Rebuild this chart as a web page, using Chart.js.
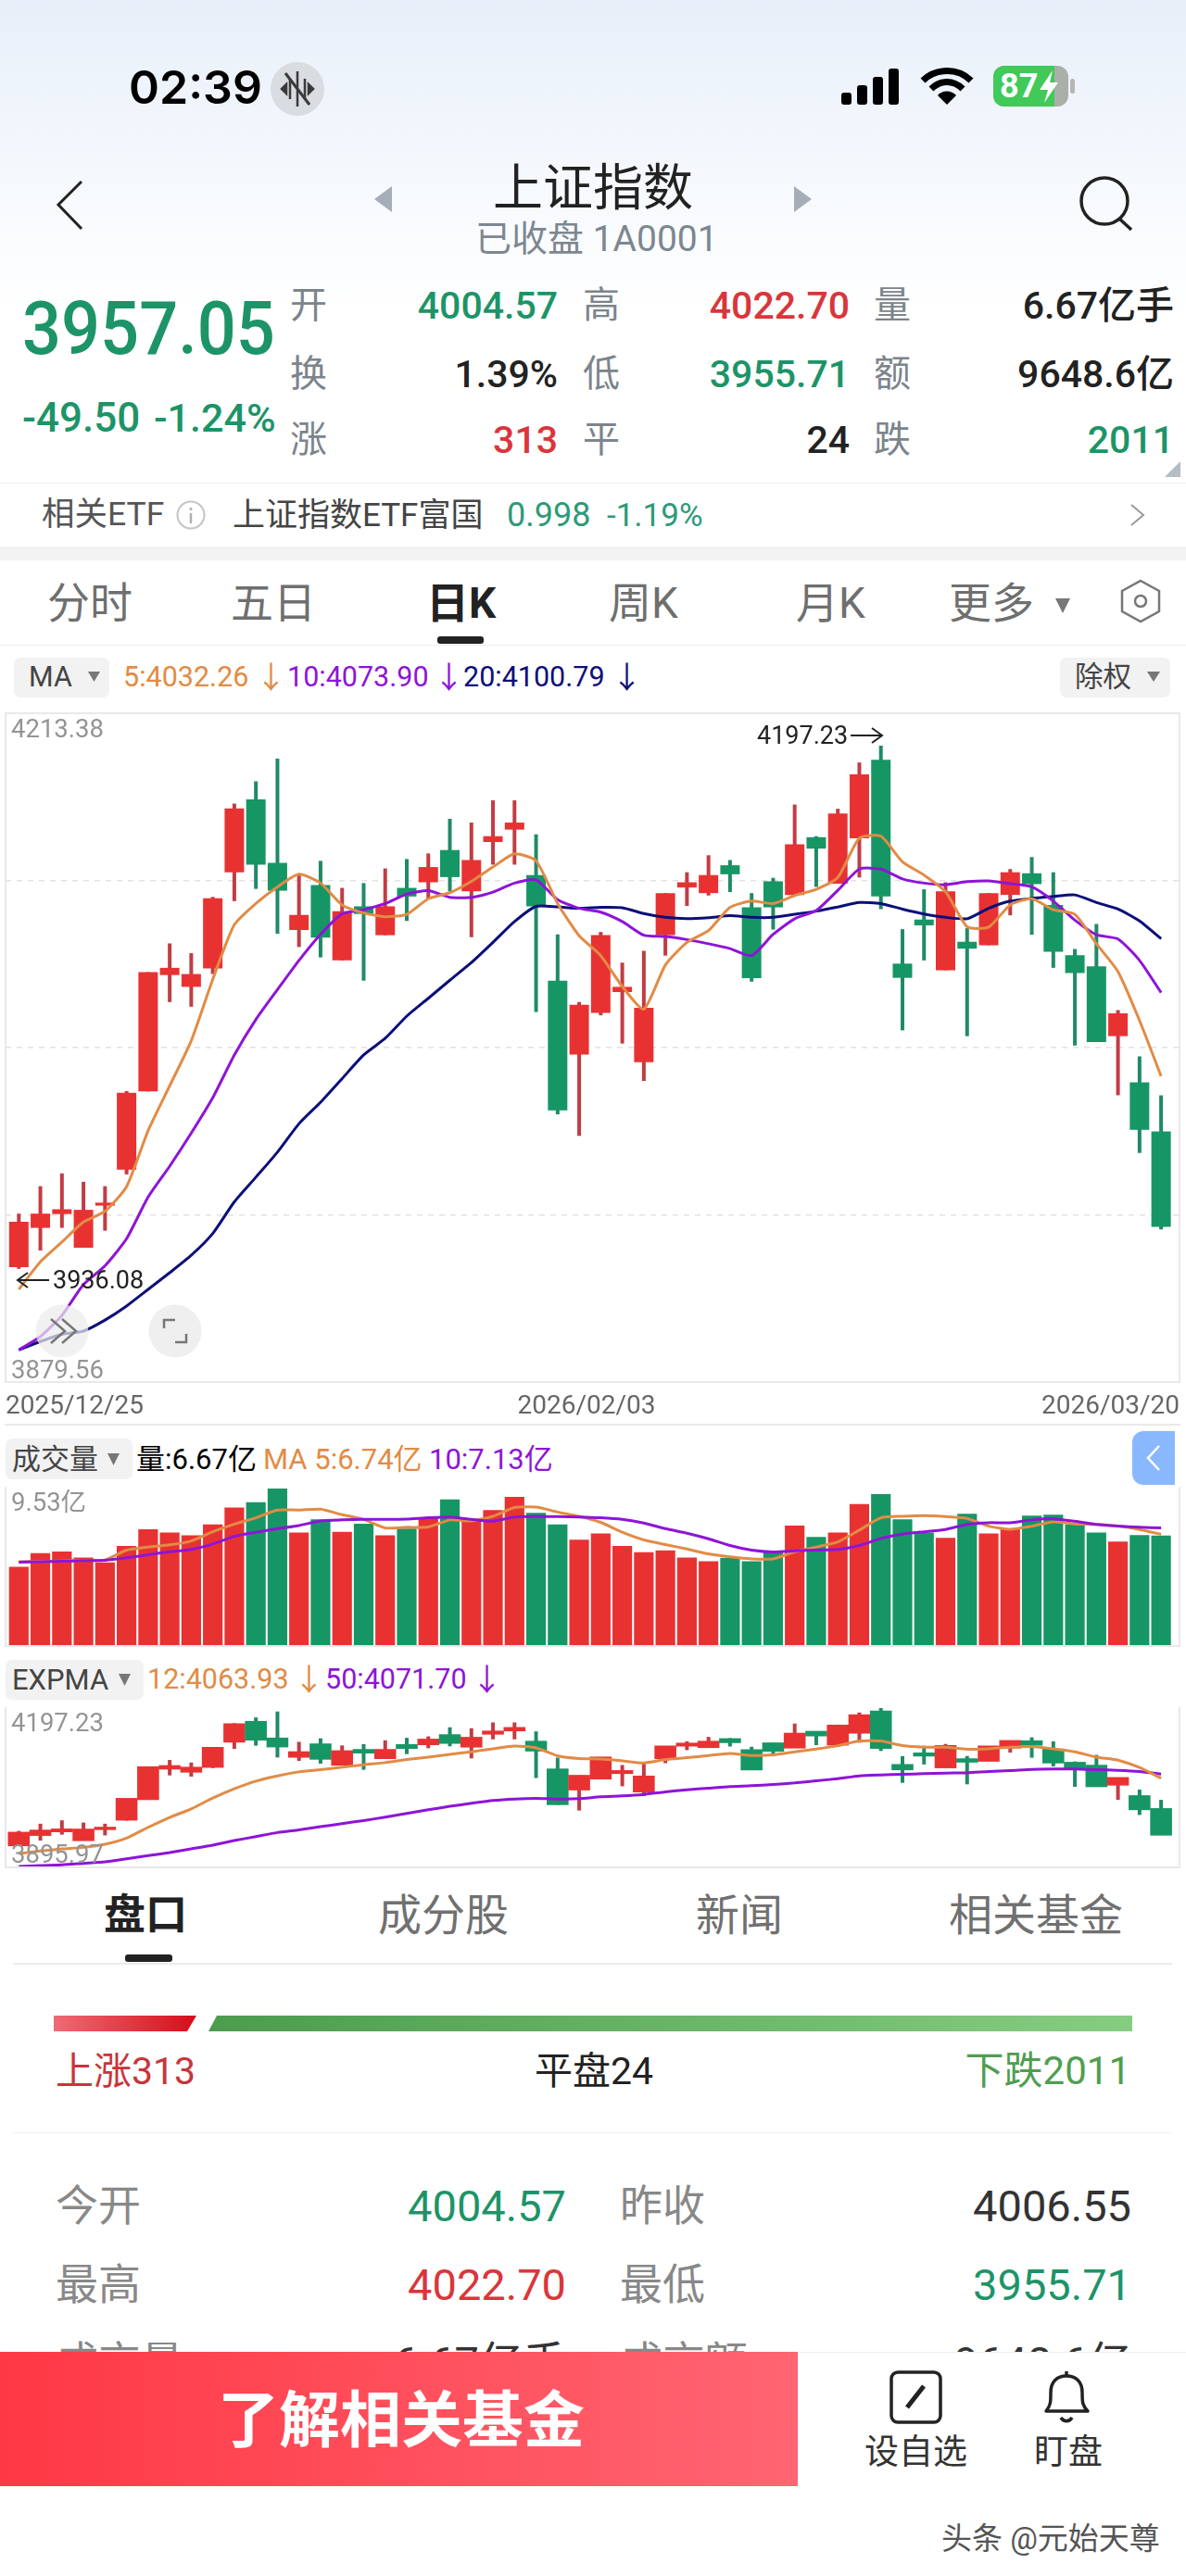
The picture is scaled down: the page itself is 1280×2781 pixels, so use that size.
<!DOCTYPE html>
<html lang="zh">
<head>
<meta charset="utf-8">
<title>上证指数</title>
<script src="https://cdn.jsdelivr.net/npm/chart.js@4"></script>
<style>
html, body { margin: 0; padding: 0; background: #fff; }
#page { position: relative; width: 1280px; height: 2781px; overflow: hidden; font-family: Roboto, "Noto Sans CJK SC", sans-serif; color: #222;
    background: linear-gradient(#e8effa 0, #f4f8fd 170px, #fff 340px); }
.t { position: absolute; white-space: nowrap; line-height: 1; transform: translateY(-50%); }
.box { position: absolute; box-sizing: border-box; }
canvas { position: absolute; }
svg { position: absolute; overflow: visible; }
.lab { font-size: 40px; color: #7c848c; }
.val { font-size: 41px; font-weight: 500; }
.tab { font-size: 46px; color: #6f6f6f; }
.tab2 { font-size: 47px; color: #707070; }
.row { font-size: 46px; color: #888; }
.num { font-size: 47px; }
.head { font-size: 30.5px; }
.red { color: #d9363b; } .green { color: #1d9468; } .black { color: #222; }
.org { color: #e28b45; } .pur { color: #8e14d8; } .navy { color: #0c0f78; }
.chip { background: #f2f2f2; border-radius: 7px; }
.frame { border: 2px solid #e9e9e9; }
</style>
</head>
<body>
<div id="page">

<!-- status bar -->
<div class="t" style="left:139px;top:94px;font:600 50px Inter;color:#000">02:39</div>
<svg style="left:292px;top:67px" width="58" height="58">
    <circle cx="29" cy="29" r="29" fill="#d9dce1"/>
    <path d="M29 10V48M21 18V40M37 18V40M12 29l5-5v10zM46 29l-5-5v10z" stroke="#3a3a3a" stroke-width="2.5" fill="#3a3a3a"/>
    <path d="M16 12L42 46" stroke="#3a3a3a" stroke-width="3"/>
</svg>
<svg style="left:908px;top:74px" width="64" height="40">
    <rect x="0" y="26" width="11" height="13" rx="3" fill="#000"/>
    <rect x="17" y="18" width="11" height="21" rx="3" fill="#000"/>
    <rect x="34" y="9" width="11" height="30" rx="3" fill="#000"/>
    <rect x="51" y="0" width="11" height="39" rx="3" fill="#000"/>
</svg>
<svg style="left:994px;top:74px" width="56" height="40">
    <path d="M2 13C16 -1 40 -1 54 13M11 22C21 12 35 12 45 22" fill="none" stroke="#000" stroke-width="7"/>
    <path d="M28 39L18 29C23 23 33 23 38 29Z" fill="#000"/>
</svg>
<svg style="left:1072px;top:71px" width="90" height="44">
    <rect x="0" y="0" width="81" height="44" rx="12" fill="#a9afa9"/>
    <path d="M12 0H66V44H12A12 12 0 0 1 0 32V12A12 12 0 0 1 12 0Z" fill="#3fca5a"/>
    <rect x="83" y="14" width="5" height="16" rx="2.5" fill="#b5b5b5"/>
    <path d="M64 5L50 26H59L55 40L70 18H61Z" fill="#fff"/>
</svg>
<div class="t" style="left:1079px;top:93px;font:700 36px Roboto;color:#fff">87</div>

<!-- title row -->
<svg style="left:60px;top:195px" width="30" height="54"><path d="M28 1L3 26L28 52" fill="none" stroke="#222" stroke-width="3"/></svg>
<svg style="left:404px;top:201px" width="20" height="30"><path d="M19 0V28L0 14Z" fill="#a5aeb8"/></svg>
<svg style="left:857px;top:201px" width="20" height="30"><path d="M0 0V28L19 14Z" fill="#a5aeb8"/></svg>
<div class="t" style="left:532px;top:204px;font-size:54px;color:#222">上证指数</div>
<div class="t" style="left:513px;top:258px;font-size:39px;color:#7d8790">已收盘 1A0001</div>
<svg style="left:1162px;top:190px" width="64" height="60">
    <circle cx="30" cy="27" r="25" fill="none" stroke="#222" stroke-width="3.5"/>
    <path d="M46 46L59 58" stroke="#222" stroke-width="3.5"/>
</svg>

<!-- quote block -->
<div class="t green" style="left:24px;top:355px;font-size:74px;font-weight:500;transform:translateY(-50%) scaleY(1.08)">3957.05</div>
<div class="t green" style="left:24px;top:451px;font-size:44px;font-weight:500">-49.50</div>
<div class="t green" style="left:166px;top:451px;font-size:43px;font-weight:500">-1.24%</div>

<div class="t lab" style="left:313px;top:330px">开</div>
<div class="t lab" style="left:313px;top:404px">换</div>
<div class="t lab" style="left:313px;top:475px">涨</div>
<div class="t val green" style="right:678px;top:330px">4004.57</div>
<div class="t val black" style="right:678px;top:404px">1.39%</div>
<div class="t val red" style="right:678px;top:475px">313</div>
<div class="t lab" style="left:629px;top:330px">高</div>
<div class="t lab" style="left:629px;top:404px">低</div>
<div class="t lab" style="left:629px;top:475px">平</div>
<div class="t val red" style="right:363px;top:330px">4022.70</div>
<div class="t val green" style="right:363px;top:404px">3955.71</div>
<div class="t val black" style="right:363px;top:475px">24</div>
<div class="t lab" style="left:943px;top:330px">量</div>
<div class="t lab" style="left:943px;top:404px">额</div>
<div class="t lab" style="left:943px;top:475px">跌</div>
<div class="t val black" style="right:13px;top:330px">6.67亿手</div>
<div class="t val black" style="right:13px;top:404px">9648.6亿</div>
<div class="t val green" style="right:13px;top:475px">2011</div>
<svg style="left:1257px;top:498px" width="17" height="18"><path d="M17 0V17H0Z" fill="#b4bcc4"/></svg>

<!-- etf row -->
<div class="box" style="left:0;top:521px;width:1280px;height:1px;background:#f0f0f0"></div>
<div class="t" style="left:45px;top:556px;font-size:35.5px;color:#555">相关ETF</div>
<svg style="left:190px;top:540px" width="32" height="32">
    <circle cx="16" cy="16" r="14.5" fill="none" stroke="#c4c4c4" stroke-width="2"/>
    <path d="M16 14V25M16 8V11" stroke="#b0b0b0" stroke-width="2.5"/>
</svg>
<div class="t" style="left:251px;top:556px;font-size:35px;color:#444">上证指数ETF富国</div>
<div class="t" style="left:547px;top:556px;font-size:36px;color:#2d9a78">0.998</div>
<div class="t" style="left:655px;top:556px;font-size:35px;color:#2d9a78">-1.19%</div>
<svg style="left:1220px;top:544px" width="16" height="24"><path d="M1 1L14 12L1 23" fill="none" stroke="#999" stroke-width="2"/></svg>
<div class="box" style="left:0;top:590px;width:1280px;height:15px;background:#f3f3f3"></div>

<!-- period tabs -->
<div class="t tab" style="left:51px;top:651px">分时</div>
<div class="t tab" style="left:249px;top:651px">五日</div>
<div class="t tab" style="left:460px;top:651px;font-weight:700;color:#222">日K</div>
<div class="t tab" style="left:657px;top:651px">周K</div>
<div class="t tab" style="left:859px;top:651px">月K</div>
<div class="t tab" style="left:1024px;top:651px">更多</div>
<svg style="left:1139px;top:646px" width="17" height="17"><path d="M0 0H16L8 16Z" fill="#777"/></svg>
<svg style="left:1208px;top:626px" width="46" height="46">
    <path d="M23 1L43 12V34L23 45L3 34V12Z" fill="none" stroke="#777" stroke-width="2.5"/>
    <circle cx="23" cy="23" r="6" fill="none" stroke="#777" stroke-width="2.5"/>
</svg>
<div class="box" style="left:472px;top:687px;width:50px;height:8px;background:#222;border-radius:3px"></div>
<div class="box" style="left:0;top:696px;width:1280px;height:1px;background:#eee"></div>

<!-- main chart header -->
<div class="box chip" style="left:15px;top:710px;width:103px;height:43px"></div>
<div class="t head" style="left:31px;top:731px;color:#444">MA</div>
<svg style="left:95px;top:725px" width="13" height="13"><path d="M0 0H13L6.5 11Z" fill="#777"/></svg>
<div class="t head org" style="left:133px;top:731px">5:4032.26</div>
<div class="t head org" style="left:276px;top:731px;font-size:33px">↓</div>
<div class="t head pur" style="left:310px;top:731px">10:4073.90</div>
<div class="t head pur" style="left:468px;top:731px;font-size:33px">↓</div>
<div class="t head navy" style="left:500px;top:731px">20:4100.79</div>
<div class="t head navy" style="left:660px;top:731px;font-size:33px">↓</div>
<div class="box chip" style="left:1144px;top:710px;width:119px;height:43px"></div>
<div class="t head" style="left:1160px;top:731px;color:#444">除权</div>
<svg style="left:1238px;top:725px" width="14" height="13"><path d="M0 0H14L7 11Z" fill="#777"/></svg>

<!-- main chart -->
<div class="box frame" style="left:5px;top:769px;width:1269px;height:724px"></div>
<div class="box" style="left:5px;top:1537px;width:1269px;height:2px;background:#e9e9e9"></div>
<canvas id="priceChart" width="1267" height="768" style="left:6px;top:770px"></canvas>
<div class="t" style="left:817px;top:794px;font-size:27px;color:#222">4197.23</div>
<svg style="left:918px;top:784px" width="36" height="20"><path d="M0 10H33M23 2L34 10L23 18" fill="none" stroke="#222" stroke-width="2"/></svg>
<svg style="left:18px;top:1372px" width="36" height="20"><path d="M35 10H2M12 2L1 10L12 18" fill="none" stroke="#222" stroke-width="2"/></svg>
<div class="t" style="left:57px;top:1382px;font-size:27px;color:#222">3936.08</div>
<svg style="left:38px;top:1408px" width="58" height="58">
    <circle cx="29" cy="29" r="28.5" fill="#ececec" fill-opacity=".72"/>
    <path d="M17 16L32 29L17 42M29 16L44 29L29 42" fill="none" stroke="#777" stroke-width="2.5"/>
</svg>
<svg style="left:160px;top:1408px" width="58" height="58">
    <circle cx="29" cy="29" r="28.5" fill="#efefef"/>
    <path d="M17 26V17H29M41 32V41H29" fill="none" stroke="#777" stroke-width="2.5"/>
</svg>

<!-- volume chart -->
<div class="box chip" style="left:6px;top:1553px;width:137px;height:44px"></div>
<div class="t" style="left:13px;top:1575px;font-size:31px;color:#444">成交量</div>
<svg style="left:116px;top:1569px" width="14" height="14"><path d="M0 0H13L6.5 13Z" fill="#777"/></svg>
<div class="t" style="left:147px;top:1575px;font-size:31px;color:#000">量:6.67亿</div>
<div class="t org" style="left:284px;top:1575px;font-size:31px">MA 5:6.74亿</div>
<div class="t pur" style="left:463px;top:1575px;font-size:31px">10:7.13亿</div>
<div class="box" style="left:1222px;top:1545px;width:46px;height:58px;background:#8ab8ff;border-radius:12px 0 0 12px"></div>
<svg style="left:1237px;top:1559px" width="16" height="30"><path d="M14 2L2 15L14 28" fill="none" stroke="#fff" stroke-width="2.5"/></svg>
<div class="box frame" style="left:5px;top:1605px;width:1269px;height:173px;border-top:0"></div>
<canvas id="volumeChart" width="1267" height="169" style="left:6px;top:1607px"></canvas>

<!-- expma chart -->
<div class="box chip" style="left:6px;top:1792px;width:149px;height:43px"></div>
<div class="t" style="left:13px;top:1813px;font-size:31px;color:#444">EXPMA</div>
<svg style="left:128px;top:1807px" width="14" height="14"><path d="M0 0H13L6.5 13Z" fill="#777"/></svg>
<div class="t org" style="left:159px;top:1813px;font-size:30.5px">12:4063.93</div>
<div class="t org" style="left:317px;top:1813px;font-size:33px">↓</div>
<div class="t pur" style="left:351px;top:1813px;font-size:30.5px">50:4071.70</div>
<div class="t pur" style="left:509px;top:1813px;font-size:33px">↓</div>
<div class="box frame" style="left:5px;top:1843px;width:1269px;height:174px;border-top:0"></div>
<canvas id="expmaChart" width="1267" height="171" style="left:6px;top:1844px"></canvas>

<!-- lower tabs -->
<div class="t" style="left:112px;top:2067px;font-size:45px;font-weight:700;color:#222">盘口</div>
<div class="t tab2" style="left:408px;top:2067px">成分股</div>
<div class="t tab2" style="left:751px;top:2067px">新闻</div>
<div class="t tab2" style="left:1024px;top:2067px">相关基金</div>
<div class="box" style="left:135px;top:2110px;width:51px;height:8px;background:#222;border-radius:3px"></div>
<div class="box" style="left:14px;top:2119px;width:1251px;height:2px;background:#ececec"></div>

<!-- breadth bar -->
<svg style="left:58px;top:2176px" width="1164" height="18">
    <defs>
        <linearGradient id="upBar"><stop offset="0" stop-color="#ef6a74"/><stop offset="1" stop-color="#d60d18"/></linearGradient>
        <linearGradient id="downBar"><stop offset="0" stop-color="#4c9c4e"/><stop offset="1" stop-color="#86cd82"/></linearGradient>
    </defs>
    <path d="M0 0H154L144 17H0Z" fill="url(#upBar)"/>
    <path d="M176 0H1164V17H167Z" fill="url(#downBar)"/>
</svg>
<div class="t" style="left:60px;top:2236px;font-size:41px;color:#c8353a">上涨313</div>
<div class="t" style="left:577px;top:2236px;font-size:41px;color:#222">平盘24</div>
<div class="t" style="right:60px;top:2236px;font-size:42px;color:#4f9e50">下跌2011</div>
<div class="box" style="left:14px;top:2302px;width:1251px;height:1px;background:#f2f2f2"></div>

<!-- quote table -->
<div class="t row" style="left:60px;top:2381px">今开</div>
<div class="t num green" style="right:669px;top:2381px">4004.57</div>
<div class="t row" style="left:669px;top:2381px">昨收</div>
<div class="t num" style="right:59px;top:2381px;color:#333">4006.55</div>
<div class="t row" style="left:60px;top:2466px">最高</div>
<div class="t num red" style="right:669px;top:2466px">4022.70</div>
<div class="t row" style="left:669px;top:2466px">最低</div>
<div class="t num green" style="right:59px;top:2466px">3955.71</div>
<div class="t row" style="left:60px;top:2550px">成交量</div>
<div class="t num" style="right:669px;top:2550px;color:#333">6.67亿手</div>
<div class="t row" style="left:669px;top:2550px">成交额</div>
<div class="t num" style="right:59px;top:2550px;color:#333">9648.6亿</div>

<!-- bottom bar -->
<div class="box" style="left:0;top:2539px;width:1280px;height:242px;background:#fff;border-top:1px solid #eee"></div>
<div class="box" style="left:0;top:2539px;width:861px;height:145px;background:linear-gradient(90deg,#ff3845,#ff6572)"></div>
<div class="t" style="left:235px;top:2614px;font-size:66px;font-weight:700;color:#fff">了解相关基金</div>
<svg style="left:960px;top:2559px" width="58" height="60">
    <rect x="2" y="2" width="53" height="54" rx="7" fill="none" stroke="#222" stroke-width="3.5"/>
    <path d="M19 40L37 17" stroke="#222" stroke-width="5"/>
</svg>
<svg style="left:1125px;top:2559px" width="54" height="60">
    <path d="M4 44C9 38 9 34 9 24C9 12 16 6 26 6C36 6 43 12 43 24C43 34 43 38 49 44Z" fill="none" stroke="#222" stroke-width="3.5" stroke-linejoin="round"/>
    <path d="M26 1V6M20 51C23 56 29 56 32 51" fill="none" stroke="#222" stroke-width="3.5"/>
</svg>
<div class="t" style="left:933px;top:2647px;font-size:37px;color:#333">设自选</div>
<div class="t" style="left:1116px;top:2647px;font-size:37px;color:#333">盯盘</div>
<div class="t" style="left:1016px;top:2740px;font-size:33px;color:#555">头条 @元始天尊</div>
</div>

<script>
// Daily candles, 2025/12/25 to 2026/03/20
const opens = [3936.9, 3956.5, 3963.4, 3946.6, 3967.6, 3985.6, 4024.6, 4082.7, 4076.8, 4086.0, 4134.0, 4170.4, 4138.7, 4105.2, 4127.6, 4090.0, 4117.0, 4102.6,
    4126.2, 4129.0, 4145.1, 4124.5, 4149.1, 4155.3, 4132.6, 4079.9, 4043.0, 4063.8, 4074.2, 4039.2, 4102.6, 4126.4, 4123.6, 4137.5, 4116.5, 4129.5,
    4122.7, 4151.5, 4128.3, 4151.0, 4190.2, 4088.4, 4110.4, 4085.1, 4099.3, 4097.6, 4122.7, 4133.5, 4117.7, 4092.6, 4087.0, 4052.2, 4029.1, 4004.57];
const closes = [3959.6, 3963.6, 3965.8, 3965.5, 3969.1, 4023.9, 4084.1, 4086.3, 4083.2, 4121.0, 4165.9, 4137.8, 4124.8, 4112.7, 4101.4, 4114.6, 4113.2, 4117.0,
    4121.9, 4136.6, 4131.6, 4140.1, 4152.0, 4158.8, 4117.0, 4015.1, 4067.8, 4102.6, 4076.8, 4066.4, 4123.6, 4129.0, 4132.6, 4133.0, 4081.1, 4116.5,
    4147.9, 4145.8, 4163.3, 4182.9, 4121.9, 4081.3, 4107.5, 4124.5, 4095.9, 4123.6, 4134.0, 4128.1, 4094.3, 4083.7, 4049.2, 4063.6, 4005.4, 3957.05];
const highs = [3963.6, 3977.3, 3983.7, 3979.5, 3977.3, 4024.8, 4084.1, 4098.5, 4093.6, 4121.7, 4168.3, 4179.4, 4190.7, 4133.0, 4139.7, 4126.2, 4128.6, 4135.9,
    4140.6, 4143.4, 4160.7, 4158.8, 4169.9, 4169.9, 4152.9, 4103.0, 4069.2, 4104.2, 4088.9, 4094.8, 4123.6, 4134.0, 4142.5, 4140.1, 4123.6, 4131.2,
    4167.8, 4152.0, 4165.7, 4188.8, 4197.23, 4105.6, 4125.5, 4129.0, 4106.1, 4123.6, 4135.6, 4141.6, 4134.0, 4095.7, 4108.2, 4065.2, 4042.1, 4022.70];
const lows = [3936.08, 3945.2, 3956.5, 3946.6, 3955.1, 3983.2, 4024.6, 4069.2, 4066.9, 4083.2, 4119.6, 4125.7, 4103.3, 4096.7, 4091.5, 4090.0, 4079.9, 4102.6,
    4109.7, 4120.8, 4124.5, 4101.6, 4137.8, 4137.8, 4064.3, 4013.2, 4002.4, 4062.6, 4048.5, 4029.8, 4092.4, 4117.2, 4122.4, 4124.1, 4079.4, 4105.4,
    4122.7, 4126.7, 4128.3, 4131.4, 4115.6, 4055.1, 4090.0, 4085.1, 4052.2, 4097.6, 4112.5, 4102.8, 4086.3, 4047.5, 4049.2, 4022.7, 3993.9, 3955.71];

const ma5 = [3925.8, 3939.5, 3949.4, 3959.4, 3964.8, 3977.1, 4005.0, 4027.4, 4049.9, 4080.6, 4107.8, 4118.4, 4126.7, 4133.0, 4128.6, 4117.7, 4113.7, 4111.8,
    4113.0, 4120.8, 4123.8, 4129.5, 4136.6, 4143.2, 4139.7, 4118.4, 4102.3, 4092.4, 4077.0, 4065.7, 4087.7, 4099.0, 4104.9, 4116.5, 4119.6, 4118.4,
    4122.4, 4125.5, 4131.4, 4151.0, 4152.0, 4139.2, 4132.6, 4124.3, 4106.8, 4106.6, 4117.7, 4120.8, 4115.3, 4113.0, 4098.3, 4084.4, 4060.0, 4032.26];
const ma10 = [3895.6, 3902.2, 3912.8, 3928.2, 3937.6, 3951.1, 3971.9, 3987.3, 4003.8, 4021.5, 4042.8, 4060.5, 4075.4, 4090.0, 4103.0, 4113.2, 4115.3, 4118.4,
    4123.1, 4124.8, 4121.5, 4121.5, 4124.1, 4128.6, 4130.2, 4120.3, 4116.0, 4114.1, 4109.4, 4102.6, 4101.9, 4100.4, 4098.3, 4095.9, 4092.4, 4103.0,
    4110.8, 4114.9, 4125.0, 4135.6, 4135.6, 4130.7, 4128.6, 4127.8, 4129.3, 4129.7, 4128.3, 4126.7, 4119.6, 4110.1, 4102.8, 4100.7, 4090.0, 4073.90];
const ma20 = [3895.6, 3899.8, 3903.4, 3905.0, 3910.5, 3917.5, 3925.8, 3934.1, 3942.8, 3953.7, 3969.5, 3981.8, 3994.3, 4008.5, 4019.2, 4031.0, 4042.8, 4051.1,
    4062.2, 4071.1, 4080.1, 4088.9, 4099.0, 4109.4, 4117.0, 4116.7, 4116.0, 4116.5, 4116.3, 4113.4, 4111.5, 4110.8, 4111.3, 4112.3, 4111.5, 4111.5,
    4113.0, 4114.6, 4116.7, 4118.9, 4118.4, 4115.6, 4113.2, 4111.5, 4110.8, 4116.0, 4119.6, 4121.0, 4121.9, 4122.7, 4118.9, 4115.6, 4109.7, 4100.79];

// Volume panel, in 亿
const volumes = [4.77, 5.59, 5.70, 5.33, 5.03, 6.04, 7.05, 6.85, 6.68, 7.34, 8.37, 8.70, 9.53, 6.85, 7.65, 6.90, 7.39, 6.68,
    7.09, 7.77, 8.87, 7.69, 8.22, 9.02, 8.05, 7.34, 6.42, 6.79, 6.04, 5.65, 5.76, 5.33, 5.10, 5.31, 5.10, 5.68,
    7.28, 6.58, 6.85, 8.59, 9.19, 7.65, 6.85, 6.53, 7.99, 6.79, 7.09, 7.88, 7.94, 7.34, 6.85, 6.30, 6.70, 6.67];
const volMa5 = [5.08, 5.10, 5.12, 5.16, 5.18, 5.78, 5.97, 6.10, 6.34, 6.90, 7.37, 7.75, 8.22, 8.22, 8.27, 7.94, 7.65, 7.13,
    7.17, 7.19, 7.62, 7.56, 7.84, 8.37, 8.40, 8.10, 7.84, 7.47, 6.87, 6.40, 6.12, 5.85, 5.55, 5.37, 5.25, 5.25,
    5.68, 5.97, 6.28, 7.00, 7.75, 7.84, 7.88, 7.82, 7.71, 7.24, 7.05, 7.24, 7.50, 7.37, 7.34, 7.24, 7.04, 6.74];
const volMa10 = [5.05, 5.07, 5.10, 5.14, 5.16, 5.31, 5.50, 5.68, 5.82, 6.15, 6.62, 6.87, 7.09, 7.28, 7.56, 7.62, 7.65, 7.65,
    7.67, 7.75, 7.79, 7.65, 7.54, 7.79, 7.84, 7.82, 7.80, 7.75, 7.65, 7.43, 7.09, 6.81, 6.47, 6.06, 5.78, 5.67,
    5.74, 5.78, 5.82, 6.06, 6.49, 6.75, 6.90, 7.04, 7.35, 7.45, 7.45, 7.62, 7.69, 7.54, 7.34, 7.24, 7.17, 7.13];

// EXPMA panel
const expma12 = [3920.6, 3925.3, 3929.4, 3932.3, 3938.2, 3949.9, 3970.4, 3989.2, 4005.6, 4026.1, 4043.7, 4058.3, 4068.3, 4075.9, 4080.0, 4084.7, 4089.4, 4093.5,
    4099.3, 4104.0, 4109.3, 4114.0, 4119.8, 4125.1, 4121.6, 4106.4, 4101.1, 4100.5, 4097.0, 4092.9, 4099.3, 4102.9, 4107.0, 4111.1, 4107.0, 4108.1,
    4114.0, 4119.3, 4125.7, 4134.5, 4134.5, 4125.7, 4122.8, 4122.8, 4118.7, 4119.8, 4122.8, 4124.0, 4119.8, 4114.0, 4104.0, 4098.2, 4084.1, 4063.93];
const expma50 = [3895.97, 3897.8, 3898.9, 3901.9, 3904.8, 3910.6, 3916.5, 3922.4, 3929.4, 3936.4, 3945.2, 3952.8, 3960.5, 3965.7, 3971.6, 3977.5, 3983.3, 3989.8,
    3996.8, 4003.8, 4010.3, 4016.1, 4021.4, 4024.3, 4025.5, 4024.3, 4024.9, 4028.4, 4030.2, 4033.1, 4037.8, 4041.9, 4044.8, 4047.8, 4049.5, 4051.9,
    4054.8, 4058.9, 4063.0, 4068.3, 4070.0, 4071.2, 4072.4, 4073.6, 4074.1, 4076.5, 4078.2, 4080.6, 4081.2, 4081.2, 4080.0, 4078.8, 4076.5, 4071.70];

// Axis labels and ranges
const dateLabels = ['2025/12/25', '2026/02/03', '2026/03/20'];
const dateTicks = [-0.615, 26.34, 53.855];
const priceRange = [3879.56, 4213.38];
const priceGrid = [3963.02, 4046.47, 4129.93];
const volumeRange = [0, 9.53];
const expmaRange = [3895.97, 4197.23];

const COLOR_UP = '#e83232';
const COLOR_DOWN = '#179665';
const WICK_UP = '#c23c44';
const WICK_DOWN = '#208a68';
const COLOR_MA1 = '#e28b45';
const COLOR_MA2 = '#8e14d8';
const COLOR_MA3 = '#0c0f78';
const X_MIN = -0.615;
const X_MAX = 53.855;

function isUp(i) {
    return closes[i] >= opens[i];
}

function points(values) {
    return values.map((v, i) => ({x: i, y: v}));
}

function lineSet(values, color, order) {
    return {
        type: 'line', data: points(values), borderColor: color, borderWidth: 3,
        pointRadius: 0, tension: 0.2, order: order, yAxisID: 'y'
    };
}

function candleSets(inflate) {
    const wicks = opens.map((v, i) => ({x: i, y: [lows[i], highs[i]]}));
    const bodies = opens.map((v, i) => ({x: i, y: [opens[i], closes[i]]}));
    return [{
        type: 'bar', data: bodies, barThickness: 21, grouped: false, order: 8, inflateAmount: inflate,
        backgroundColor: opens.map((v, i) => isUp(i) ? COLOR_UP : COLOR_DOWN), yAxisID: 'y'
    }, {
        type: 'bar', data: wicks, barThickness: 4, grouped: false, order: 9, inflateAmount: 0,
        backgroundColor: opens.map((v, i) => isUp(i) ? WICK_UP : WICK_DOWN), yAxisID: 'y'
    }];
}

// Chart.js reserves room for the edge labels, these panels draw right up to the frame
function noMargins(scale) {
    scale.paddingTop = 0;
    scale.paddingBottom = 0;
    scale.paddingLeft = 0;
    scale.paddingRight = 0;
}

// Axis that only carries the grey max and min labels inside the panel corners
function cornerAxis(range, topText, bottomText, inset) {
    const d = (range[1] - range[0]) * inset;
    return {
        axis: 'y', type: 'linear', position: 'left', min: range[0], max: range[1],
        grid: {display: false}, border: {display: false},
        ticks: {
            mirror: true, padding: 6, labelOffset: 4, color: '#949494', autoSkip: false, z: 1,
            font: {family: 'Roboto, "Noto Sans CJK SC"', size: 27.5},
            callback: (v, i) => i === 0 ? bottomText : topText
        },
        afterBuildTicks: scale => { scale.ticks = [{value: range[0] + d}, {value: range[1] - d}]; },
        afterFit: scale => { scale.width = 0; noMargins(scale); }
    };
}

function panelOptions(xAxis, yAxis, labelAxis) {
    return {
        responsive: false, animation: false, events: [],
        plugins: {legend: {display: false}, tooltip: {enabled: false}},
        scales: {x: xAxis, y: yAxis, yLabels: labelAxis}
    };
}

const hiddenX = {type: 'linear', offset: false, min: X_MIN, max: X_MAX, display: false};

new Chart(document.getElementById('priceChart'), {
    data: {datasets: [lineSet(ma5, COLOR_MA1, 1), lineSet(ma10, COLOR_MA2, 2), lineSet(ma20, COLOR_MA3, 3)].concat(candleSets(0))},
    options: panelOptions({
        type: 'linear', offset: false, min: X_MIN, max: X_MAX,
        grid: {display: false, drawTicks: false}, border: {display: false},
        ticks: {
            align: 'inner', maxRotation: 0, autoSkip: false, padding: 10, color: '#666',
            font: {family: 'Roboto', size: 28},
            callback: (v, i) => dateLabels[i]
        },
        afterBuildTicks: scale => { scale.ticks = dateTicks.map(v => ({value: v})); },
        afterFit: scale => { scale.height = 46; noMargins(scale); }
    }, {
        type: 'linear', position: 'left', min: priceRange[0], max: priceRange[1],
        grid: {color: '#e2e2e2', lineWidth: 1.5, drawTicks: false},
        border: {display: false, dash: [6, 6]},
        ticks: {display: false},
        afterBuildTicks: scale => { scale.ticks = priceGrid.map(v => ({value: v})); },
        afterFit: scale => { scale.width = 0; noMargins(scale); }
    }, cornerAxis(priceRange, '4213.38', '3879.56', 0.0205))
});

new Chart(document.getElementById('volumeChart'), {
    data: {datasets: [lineSet(volMa5, COLOR_MA1, 1), lineSet(volMa10, COLOR_MA2, 0), {
        type: 'bar', data: points(volumes), barThickness: 21.2, grouped: false, order: 8, inflateAmount: 0,
        backgroundColor: volumes.map((v, i) => isUp(i) ? COLOR_UP : COLOR_DOWN), yAxisID: 'y'
    }]},
    options: panelOptions(hiddenX, {
        type: 'linear', min: volumeRange[0], max: volumeRange[1], display: false
    }, cornerAxis(volumeRange, '9.53亿', '', 0.08))
});

new Chart(document.getElementById('expmaChart'), {
    data: {datasets: [lineSet(expma12, COLOR_MA1, 1), lineSet(expma50, COLOR_MA2, 2)].concat(candleSets(1.3))},
    options: panelOptions(hiddenX, {
        type: 'linear', min: expmaRange[0], max: expmaRange[1], display: false
    }, cornerAxis(expmaRange, '4197.23', '3895.97', 0.085))
});
</script>
</body>
</html>
